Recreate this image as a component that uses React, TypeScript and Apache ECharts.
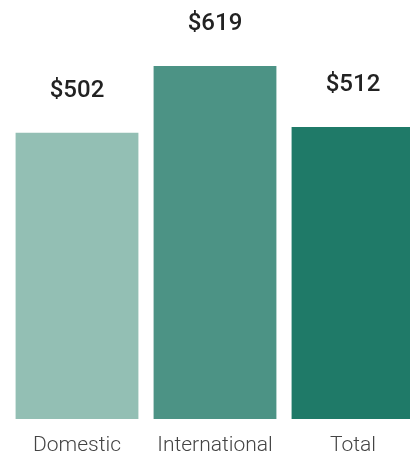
import React, { useEffect, useRef } from "react";
import * as echarts from "echarts";

const categories = ["Domestic", "International", "Total"];
const values = [502, 619, 512];
const barColors = ["#93BFB4", "#4C9385", "#1F7A68"];

export default function App() {
  const ref = useRef<HTMLDivElement>(null);
  useEffect(() => {
    if (!ref.current) return;
    const chart = echarts.init(ref.current, undefined, { renderer: "svg" });
    chart.setOption({
      animation: false,
      grid: { left: 8, right: 0, top: 66, bottom: 37, containLabel: false },
      xAxis: {
        type: "category",
        data: categories,
        axisLine: { show: false },
        axisTick: { show: false },
        axisLabel: {
          interval: 0,
          margin: 14,
          fontFamily: "Roboto",
          fontWeight: 300,
          fontSize: 21,
          color: "#444444",
        },
      },
      yAxis: { type: "value", min: 0, max: 619, show: false, splitLine: { show: false } },
      series: [
        {
          type: "bar",
          barCategoryGap: "11%",
          data: values.map((v, i) => ({ value: v, itemStyle: { color: barColors[i] } })),
          label: {
            show: true,
            position: "top",
            distance: 32,
            formatter: (p: any) => "$" + p.value,
            fontFamily: "Roboto",
            fontWeight: 500,
            fontSize: 24,
            color: "#222222",
          },
        },
      ],
    });
    return () => chart.dispose();
  }, []);
  return (
    <div style={{ position: "fixed", left: 0, top: 0, width: 410, height: 456, overflow: "hidden" }}>
      <div ref={ref} style={{ width: 422, height: 456 }} />
    </div>
  );
}
